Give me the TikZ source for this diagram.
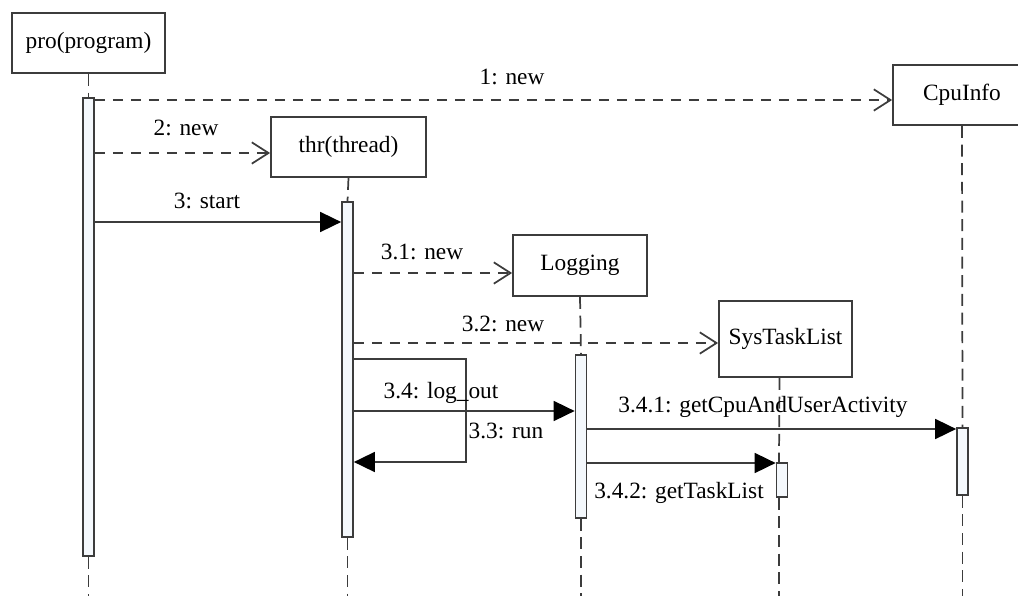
\documentclass[tikz,border=0pt]{standalone}
\usepackage{fontspec}
\setmainfont{Liberation Serif}
\usetikzlibrary{arrows.meta}
\definecolor{ln}{RGB}{60,60,60}
\definecolor{barfill}{RGB}{244,248,252}
\tikzset{
  obj/.style={draw=ln, line width=1.35pt, fill=white, inner sep=0pt, font=\fontsize{17.5}{20}\selectfont},
  actbar/.style={draw=ln, line width=1.3pt, fill=barfill, inner sep=0pt, minimum width=8.25pt, anchor=north},
  life/.style={draw=ln, line width=1.3pt, dash pattern=on 9pt off 5pt},
  newmsg/.style={draw=ln, line width=1.3pt, dash pattern=on 7.5pt off 6pt, -{Straight Barb[length=12.5pt,width=16pt,line width=1.3pt]}},
  syncmsg/.style={draw=ln, line width=1.3pt, -{Triangle[length=15.75pt,width=15pt,color=black,fill=black]}},
  lbl/.style={inner sep=0pt, font=\fontsize{17.5}{20}\selectfont}
}
\begin{document}
\begin{tikzpicture}[x=0.75pt,y=-0.75pt]
\useasboundingbox (0,0) rectangle (1018,596);
% objects
\node[obj, minimum width=114.75pt, minimum height=45pt] (pro) at (88.5,43) {pro(program)};
\node[obj, minimum width=116.25pt, minimum height=45pt] (thr) at (348.5,147) {thr(thread)};
\node[obj, minimum width=100.5pt, minimum height=45.75pt] (log) at (580,265.5) {Logging};
\node[obj, minimum width=99.75pt, minimum height=57pt] (sys) at (785.5,339) {SysTaskList};
\node[obj, minimum width=103.5pt, minimum height=45pt] (cpu) at (962,95) {CpuInfo};
% helper coordinates
\coordinate (bottom) at (0,596);
\coordinate (m1) at (0,100);
\coordinate (m2) at (0,153);
\coordinate (m3) at (0,222);
\coordinate (m31) at (0,273);
\coordinate (m32) at (0,343);
\coordinate (m33a) at (0,359);
\coordinate (m33b) at (0,462);
\coordinate (m34) at (0,411);
\coordinate (m341) at (0,429);
\coordinate (m342) at (0,463);
\coordinate (selfr) at (466,0);
% activation bars
\node[actbar, minimum height=343.5pt] (bpro) at (88.5,97) {};
\node[actbar, minimum height=251.25pt] (bthr) at (347.5,201) {};
\node[actbar, minimum height=122.25pt] (blog) at (581,354) {};
\node[actbar, minimum height=25.5pt] (bsys) at (782,462) {};
\node[actbar, minimum height=50.25pt] (bcpu) at (962.5,427) {};
% lifelines
\draw[life] (pro.south) -- (bpro.north);
\draw[life] (bpro.south) -- (bpro.south |- bottom);
\draw[life] (thr.south) -- (bthr.north);
\draw[life] (bthr.south) -- (bthr.south |- bottom);
\draw[life] (log.south) -- (blog.north);
\draw[life] (blog.south) -- (blog.south |- bottom);
\draw[life] ([xshift=-4.5pt]sys.south) -- ([xshift=-2.25pt]bsys.north);
\draw[life] ([xshift=-2.25pt]bsys.south) -- ([xshift=-2.25pt]bsys.south |- bottom);
\draw[life] (cpu.south) -- (bcpu.north);
\draw[life] (bcpu.south) -- (bcpu.south |- bottom);
% messages
\draw[newmsg] (bpro.east |- m1) -- (cpu.west |- m1);
\node[lbl] (l1) at (512,77) {1: new};
\draw[newmsg] (bpro.east |- m2) -- (thr.west |- m2);
\node[lbl] (l2) at (186,128) {2: new};
\draw[syncmsg] (bpro.east |- m3) -- (bthr.west |- m3);
\node[lbl] (l3) at (207,201) {3: start};
\draw[newmsg] (bthr.east |- m31) -- (log.west |- m31);
\node[lbl] (l31) at (422,252) {3.1: new};
\draw[newmsg] (bthr.east |- m32) -- (sys.west |- m32);
\node[lbl] (l32) at (503,324) {3.2: new};
\draw[syncmsg] (bthr.east |- m33a) -- (selfr |- m33a) -- (selfr |- m33b) -- (bthr.east |- m33b);
\node[lbl] (l33) at (506,431) {3.3: run};
\draw[syncmsg] (bthr.east |- m34) -- (blog.west |- m34);
\node[lbl] (l34) at (441,393) {3.4: log\_out};
\draw[syncmsg] (blog.east |- m341) -- (bcpu.west |- m341);
\node[lbl] (l341) at (763,407) {3.4.1: getCpuAndUserActivity};
\draw[syncmsg] (blog.east |- m342) -- (bsys.west |- m342);
\node[lbl] (l342) at (679,493) {3.4.2: getTaskList};
\end{tikzpicture}
\end{document}
